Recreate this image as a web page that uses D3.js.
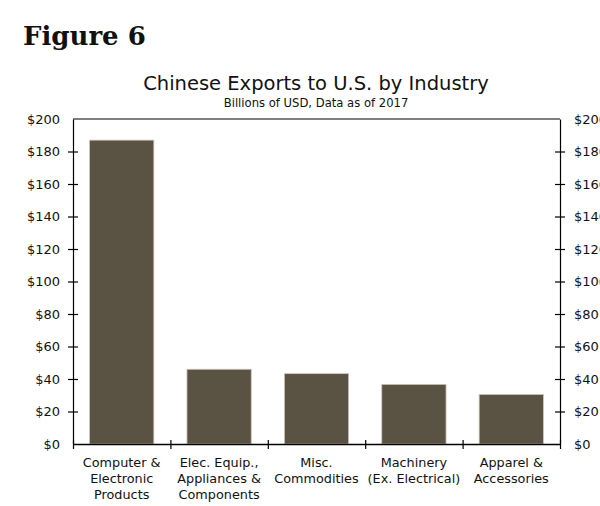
<!DOCTYPE html>
<html>
<head>
<meta charset="utf-8">
<script src="https://cdn.jsdelivr.net/npm/d3@7"></script>
<style>
  body { margin: 0; background: #fff; }
  svg text { fill: #111; }
</style>
</head>
<body>
<div id="chart"></div>
<script>
// data
var categories = [
    ["Computer &", "Electronic", "Products"],
    ["Elec. Equip.,", "Appliances &", "Components"],
    ["Misc.", "Commodities"],
    ["Machinery", "(Ex. Electrical)"],
    ["Apparel &", "Accessories"]
];
var exportValues = [187, 46, 43.3, 36.7, 30.5];
var yTicks = [0, 20, 40, 60, 80, 100, 120, 140, 160, 180, 200];

var W = 600, H = 506;
var plotL = 73, plotR = 560, plotT = 119, plotB = 444;

var svg = d3.select("#chart").append("svg")
    .attr("width", W)
    .attr("height", H);

svg.append("text")
    .attr("x", 23).attr("y", 45)
    .style("font-family", "'DejaVu Serif', serif")
    .style("font-weight", "bold")
    .style("font-size", "26px")
    .text("Figure 6");

svg.append("text")
    .attr("x", 316).attr("y", 90)
    .attr("text-anchor", "middle")
    .style("font-family", "'DejaVu Sans', Verdana, sans-serif")
    .style("font-size", "19.5px")
    .text("Chinese Exports to U.S. by Industry");

svg.append("text")
    .attr("x", 316).attr("y", 107)
    .attr("text-anchor", "middle")
    .style("font-family", "'DejaVu Sans', Verdana, sans-serif")
    .style("font-size", "11.6px")
    .text("Billions of USD, Data as of 2017");

var idx = d3.range(categories.length);
var x = d3.scaleBand().domain(idx).range([plotL, plotR]).paddingInner(0.34).paddingOuter(0.17);
var xb = d3.scaleLinear().domain([0, categories.length]).range([plotL, plotR]);
var y = d3.scaleLinear().domain([0, 200]).range([plotB, plotT]);

// bars
svg.append("g")
    .selectAll("rect")
    .data(exportValues)
    .enter().append("rect")
    .attr("x", (d, i) => x(i))
    .attr("y", d => y(d))
    .attr("width", x.bandwidth())
    .attr("height", d => y(0) - y(d))
    .attr("fill", "#5a5343")
    .attr("stroke", "#cfc6bd")
    .attr("stroke-width", 0.8);

// frame top
svg.append("line")
    .attr("x1", plotL).attr("x2", plotR)
    .attr("y1", plotT).attr("y2", plotT)
    .attr("stroke", "#000").attr("stroke-width", 1.2);

var fmt = d => "$" + d;

// left axis, ticks crossing the line
var gl = svg.append("g").attr("transform", "translate(" + plotL + ",0)")
    .call(d3.axisLeft(y).tickValues(yTicks).tickFormat(fmt).tickSizeInner(5).tickSizeOuter(0).tickPadding(8));
gl.selectAll(".tick line").attr("x2", 5).attr("x1", -5);

var gr = svg.append("g").attr("transform", "translate(" + plotR + ",0)")
    .call(d3.axisRight(y).tickValues(yTicks).tickFormat(fmt).tickSizeInner(5).tickSizeOuter(0).tickPadding(9));
gr.selectAll(".tick line").attr("x1", -5).attr("x2", 5);

[gl, gr].forEach(g => {
    g.select(".domain").attr("stroke", "#000").attr("stroke-width", 1.2);
    g.selectAll(".tick line").attr("stroke", "#000").attr("stroke-width", 1.2);
    g.selectAll(".tick").filter(d => d === 0 || d === 200).select("line").remove();
    g.selectAll("text")
        .style("font-family", "'DejaVu Sans', Verdana, sans-serif")
        .style("font-size", "13px")
        .attr("fill", "#111");
});

// baseline with category boundary ticks
var gb = svg.append("g").attr("transform", "translate(0," + plotB + ")")
    .call(d3.axisBottom(xb).tickValues(d3.range(categories.length + 1)).tickFormat("").tickSizeInner(5).tickSizeOuter(0));
gb.select(".domain").attr("stroke", "#000").attr("stroke-width", 1.4);
gb.selectAll(".tick line").attr("y1", -4).attr("y2", 5).attr("stroke", "#000").attr("stroke-width", 1.2);

// category labels
var lab = svg.append("g")
    .selectAll("text")
    .data(categories)
    .enter().append("text")
    .attr("x", (d, i) => x(i) + x.bandwidth() / 2)
    .attr("y", 467)
    .attr("text-anchor", "middle")
    .style("font-family", "'DejaVu Sans', Verdana, sans-serif")
    .style("font-size", "12.8px");
lab.selectAll("tspan")
    .data(d => d)
    .enter().append("tspan")
    .attr("x", function () { return this.parentNode.getAttribute("x"); })
    .attr("dy", (d, i) => i === 0 ? 0 : 16)
    .text(d => d);
</script>
</body>
</html>
